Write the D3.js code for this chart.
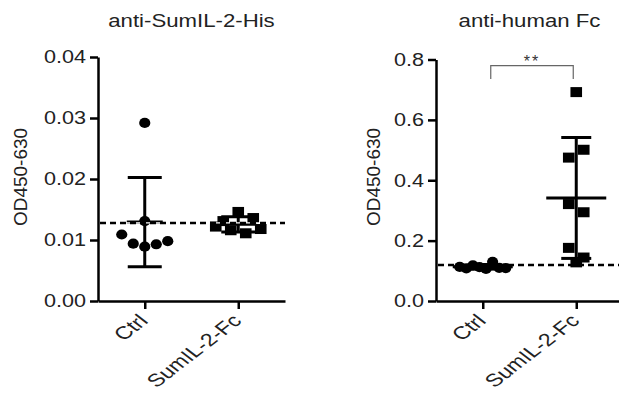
<!DOCTYPE html>
<html>
<head>
<meta charset="utf-8">
<script src="https://cdn.jsdelivr.net/npm/d3@7"></script>
<style>
  body { margin: 0; background: #fff; }
  svg { display: block; font-family: 'Liberation Sans', Arial, sans-serif; }
</style>
</head>
<body>
<script>
// values
let groups = ['Ctrl', 'SumIL-2-Fc'];
let titles = ['anti-SumIL-2-His', 'anti-human Fc'];
let yLabel = 'OD450-630';
let hisCtrl = [0.0292, 0.0131, 0.0109, 0.0094, 0.0089, 0.0093, 0.0098];
let hisFc = [0.0131, 0.0146, 0.0136, 0.0122, 0.0116, 0.0111, 0.0118];
let fcCtrl = [0.113, 0.108, 0.118, 0.112, 0.106, 0.130, 0.110, 0.109];
let fcFc = [0.692, 0.475, 0.501, 0.321, 0.294, 0.176, 0.144, 0.128];
let cutoffs = [0.0128, 0.119];
let hisTicks = [0, 0.01, 0.02, 0.03, 0.04];
let fcTicks = [0, 0.2, 0.4, 0.6, 0.8];
let sigLabel = '**';

let svg = d3.select('body').append('svg')
    .attr('width', 619)
    .attr('height', 396);

let panels = [
    { title: titles[0], data: [hisCtrl, hisFc], ticks: hisTicks, fmt: '.2f', cutoff: cutoffs[0],
      x0: 98, top: 57, labelX: 27, meanHalf: 18, capHalf: 17, dashGap: true, sig: null },
    { title: titles[1], data: [fcCtrl, fcFc], ticks: fcTicks, fmt: '.1f', cutoff: cutoffs[1],
      x0: 436, top: 59.5, labelX: 380, meanHalf: 30, capHalf: 15, dashGap: false, sig: sigLabel }
];

let axisW = 187, bottom = 301;

// GraphPad-like scatter: points with close values share a row, spread sideways
function swarm(values, y, xc) {
    let order = values.map((v, i) => i).sort((a, b) => values[b] - values[a]);
    let rows = [], cur = null;
    order.forEach(i => {
        let py = y(values[i]);
        if (cur && Math.abs(py - cur.start) < 13) cur.items.push(i);
        else { cur = { start: py, items: [i] }; rows.push(cur); }
    });
    let pts = [];
    rows.forEach(r => {
        r.items.sort((a, b) => a - b);
        let n = r.items.length;
        let step = n > 1 ? Math.min(15, 46 / (n - 1)) : 0;
        r.items.forEach((i, k) => pts.push({ x: xc + (k - (n - 1) / 2) * step, y: y(values[i]) }));
    });
    return pts;
}

panels.forEach(p => {
    let g = svg.append('g').attr('transform', `translate(${p.x0},0)`);
    let x = d3.scalePoint().domain(groups).range([0, axisW]).padding(0.5);
    let y = d3.scaleLinear().domain([0, d3.max(p.ticks)]).range([bottom, p.top]);

    // title
    g.append('text')
        .attr('transform', `translate(${axisW / 2},26.5) scale(1.2,1)`)
        .attr('text-anchor', 'middle')
        .attr('font-size', 18.5)
        .attr('fill', '#222')
        .text(p.title);

    // y label
    svg.append('text')
        .attr('transform', `translate(${p.labelX},177) rotate(-90)`)
        .attr('text-anchor', 'middle')
        .attr('font-size', 19)
        .attr('fill', '#222')
        .text(yLabel);

    // axes
    let ya = g.append('g')
        .call(d3.axisLeft(y).tickValues(p.ticks).tickFormat(d3.format(p.fmt)).tickSize(8).tickSizeOuter(0).tickPadding(2));
    ya.selectAll('text')
        .attr('transform', 'scale(1.2,1)')
        .attr('font-size', 18)
        .attr('font-family', "'Liberation Sans', Arial, sans-serif")
        .attr('fill', '#222');

    let xa = g.append('g')
        .attr('transform', `translate(0,${bottom})`)
        .call(d3.axisBottom(x).tickSize(8).tickSizeOuter(0));
    xa.selectAll('text')
        .attr('y', null).attr('dy', null)
        .attr('transform', 'translate(4,21) scale(1.3,1) rotate(-45)')
        .attr('text-anchor', 'end')
        .attr('font-size', 18)
        .attr('font-family', "'Liberation Sans', Arial, sans-serif")
        .attr('fill', '#222');

    [ya, xa].forEach(a => {
        a.selectAll('path, line').attr('stroke', '#000').attr('stroke-width', 2.5);
    });

    let drawDash = () => {
        if (p.dashGap)
            g.append('line')
                .attr('x1', 2).attr('x2', axisW)
                .attr('y1', y(p.cutoff)).attr('y2', y(p.cutoff))
                .attr('stroke', '#fff').attr('stroke-width', 1.3);
        g.append('line')
            .attr('x1', 2).attr('x2', axisW)
            .attr('y1', y(p.cutoff)).attr('y2', y(p.cutoff))
            .attr('stroke', '#000').attr('stroke-width', 2.5)
            .attr('stroke-dasharray', '6,4');
    };
    if (!p.dashGap) drawDash();

    p.data.forEach((vals, gi) => {
        let xc = x(groups[gi]);
        let m = d3.mean(vals), sd = d3.deviation(vals);
        let bars = g.append('g').attr('stroke', '#000').attr('stroke-width', 3);
        bars.append('line').attr('x1', xc).attr('x2', xc).attr('y1', y(m - sd)).attr('y2', y(m + sd));
        bars.append('line').attr('x1', xc - p.capHalf).attr('x2', xc + p.capHalf).attr('y1', y(m + sd)).attr('y2', y(m + sd));
        bars.append('line').attr('x1', xc - p.capHalf).attr('x2', xc + p.capHalf).attr('y1', y(m - sd)).attr('y2', y(m - sd));
        bars.append('line').attr('x1', xc - p.meanHalf).attr('x2', xc + p.meanHalf).attr('y1', y(m)).attr('y2', y(m));

        let pts = swarm(vals, y, xc);
        if (gi == 0) {
            g.append('g').selectAll('ellipse').data(pts).enter()
                .append('ellipse')
                .attr('cx', d => d.x).attr('cy', d => d.y)
                .attr('rx', 5.6).attr('ry', 5.1)
                .attr('fill', '#000');
        } else {
            g.append('g').selectAll('rect').data(pts).enter()
                .append('rect')
                .attr('x', d => d.x - 5.8).attr('y', d => d.y - 5)
                .attr('width', 11.6).attr('height', 10)
                .attr('fill', '#000');
        }
    });

    if (p.dashGap) drawDash();

    // significance bracket
    if (p.sig) {
        let xa1 = x(groups[0]) + 8, xa2 = x(groups[1]) - 3;
        g.append('path')
            .attr('d', `M${xa1},79V65.7H${xa2}V79`)
            .attr('fill', 'none')
            .attr('stroke', '#666')
            .attr('stroke-width', 1.2);
        g.append('text')
            .attr('x', (xa1 + xa2) / 2).attr('y', 67)
            .attr('text-anchor', 'middle')
            .attr('font-size', 16)
            .attr('letter-spacing', 2)
            .attr('fill', '#333')
            .text(p.sig);
    }
});
</script>
</body>
</html>
